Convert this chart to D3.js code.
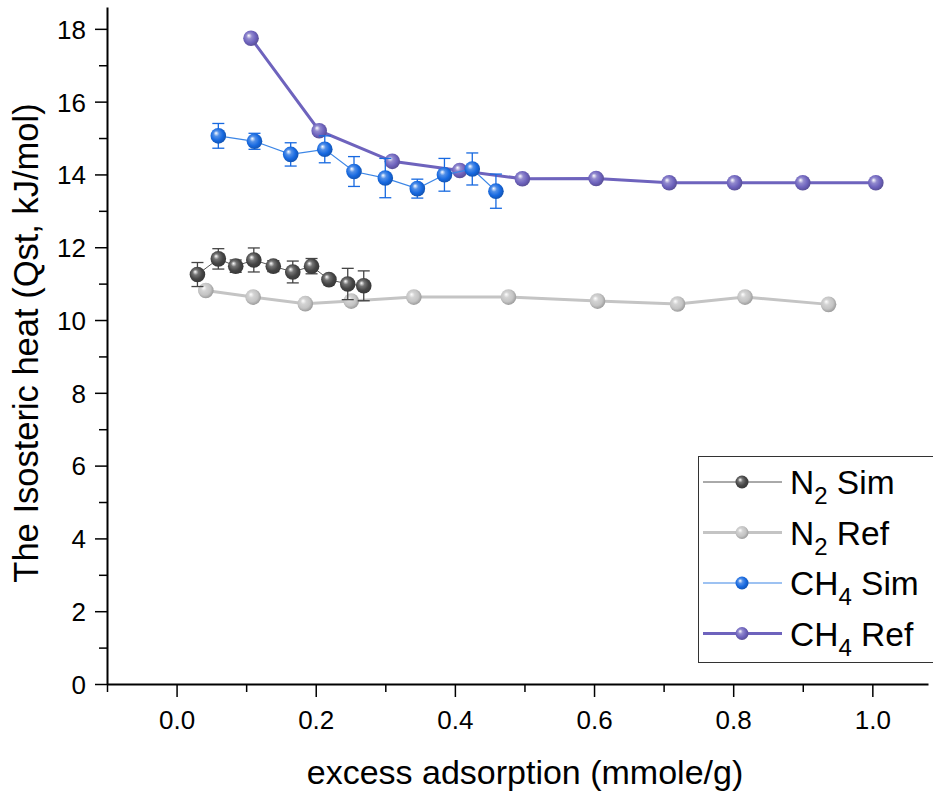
<!DOCTYPE html>
<html>
<head>
<meta charset="utf-8">
<title>Isosteric heat</title>
<script src="https://cdn.jsdelivr.net/npm/d3@7"></script>
<style>
  body { margin: 0; background: #fff; overflow: hidden; }
  svg text { font-family: Arial, 'Liberation Sans', sans-serif; fill: #000; }
</style>
</head>
<body>
<div id="container"></div>
<script>
// data
var n2SimX   = [0.030, 0.060, 0.085, 0.111, 0.139, 0.167, 0.194, 0.219, 0.246, 0.269];
var n2SimY   = [11.25, 11.68, 11.48, 11.65, 11.48, 11.32, 11.48, 11.11, 10.99, 10.94];
var n2SimErr = [0.33, 0.28, 0.17, 0.33, 0.15, 0.30, 0.21, 0.10, 0.43, 0.41];

var n2RefX = [0.042, 0.110, 0.185, 0.251, 0.341, 0.477, 0.605, 0.720, 0.817, 0.937];
var n2RefY = [10.81, 10.63, 10.45, 10.52, 10.63, 10.63, 10.52, 10.44, 10.63, 10.43];

var ch4SimX   = [0.060, 0.112, 0.164, 0.213, 0.255, 0.300, 0.346, 0.385, 0.425, 0.459];
var ch4SimY   = [15.06, 14.91, 14.55, 14.69, 14.08, 13.90, 13.61, 13.99, 14.15, 13.54];
var ch4SimErr = [0.34, 0.22, 0.32, 0.37, 0.41, 0.54, 0.26, 0.45, 0.44, 0.47];

var ch4RefX = [0.107, 0.205, 0.310, 0.407, 0.497, 0.603, 0.708, 0.802, 0.900, 1.005];
var ch4RefY = [17.74, 15.20, 14.36, 14.11, 13.88, 13.89, 13.77, 13.77, 13.77, 13.77];

var xTicks = [0.0, 0.2, 0.4, 0.6, 0.8, 1.0];
var yTicks = [0, 2, 4, 6, 8, 10, 12, 14, 16, 18];

var series = [
    { name: "N", sub: "2", tail: " Ref", xs: n2RefX, ys: n2RefY, err: null, color: "#c4c4c4", line: "#c4c4c4", lw: 3, id: "gN2R" },
    { name: "N", sub: "2", tail: " Sim", xs: n2SimX, ys: n2SimY, err: n2SimErr, color: "#454545", line: "#555", lw: 1, id: "gN2S" },
    { name: "CH", sub: "4", tail: " Ref", xs: ch4RefX, ys: ch4RefY, err: null, color: "#6e63bd", line: "#6e63bd", lw: 3, id: "gC4R" },
    { name: "CH", sub: "4", tail: " Sim", xs: ch4SimX, ys: ch4SimY, err: ch4SimErr, color: "#1769e0", line: "#3c86e6", lw: 1.2, id: "gC4S" }
];
var legendOrder = [1, 0, 3, 2];

var width = 933, height = 791;
var svg = d3.select("#container").append("svg").attr("width", width).attr("height", height);

var x = d3.scaleLinear().domain([-0.1, 1.08]).range([107, 928]);
var y = d3.scaleLinear().domain([0, 18.6]).range([684, 7]);

// sphere gradients
var defs = svg.append("defs");
series.forEach(function (s) {
    var g = defs.append("radialGradient").attr("id", s.id)
        .attr("cx", "45%").attr("cy", "45%").attr("r", "60%").attr("fx", "35%").attr("fy", "32%");
    g.append("stop").attr("offset", "0%").attr("stop-color", "#ffffff");
    g.append("stop").attr("offset", "30%").attr("stop-color", d3.interpolateRgb("#fff", s.color)(0.75));
    g.append("stop").attr("offset", "65%").attr("stop-color", s.color);
    g.append("stop").attr("offset", "100%").attr("stop-color", d3.color(s.color).darker(0.8));
});

// axes
var xAxis = d3.axisBottom(x).tickValues(xTicks).tickFormat(d3.format(".1f")).tickSize(13).tickSizeOuter(0);
var xMinor = d3.axisBottom(x).tickValues(d3.range(-0.1, 1.05, 0.2)).tickFormat("").tickSize(8).tickSizeOuter(0);
var yAxis = d3.axisLeft(y).tickValues(yTicks).tickFormat(d3.format("d")).tickSize(12).tickSizeOuter(0);
var yMinor = d3.axisLeft(y).tickValues(d3.range(1, 18, 2)).tickFormat("").tickSize(8).tickSizeOuter(0);

var gx = svg.append("g").attr("transform", "translate(0,684)").call(xAxis);
svg.append("g").attr("transform", "translate(0,684)").call(xMinor).select(".domain").remove();
var gy = svg.append("g").attr("transform", "translate(107,0)").call(yAxis);
svg.append("g").attr("transform", "translate(107,0)").call(yMinor).select(".domain").remove();

svg.selectAll(".domain").attr("stroke", "#000").attr("stroke-width", 2);
svg.selectAll(".tick line").attr("stroke", "#000").attr("stroke-width", 1.5);
gx.selectAll(".tick text").attr("font-size", 26).attr("dy", 0).attr("y", 45);
gy.selectAll(".tick text").attr("font-size", 26).attr("x", -21).attr("dy", "0.36em");
svg.selectAll(".tick text").attr("font-family", "Arial, 'Liberation Sans', sans-serif").attr("fill", "#000");

svg.append("text").attr("x", 525).attr("y", 784).attr("text-anchor", "middle")
    .attr("font-size", 34).text("excess adsorption (mmole/g)");
svg.append("text").attr("transform", "translate(38,343) rotate(-90)").attr("text-anchor", "middle")
    .attr("font-size", 34.5).text("The Isosteric heat (Qst, kJ/mol)");

// series
var line = d3.line().x(function (d) { return x(d[0]); }).y(function (d) { return y(d[1]); });
series.forEach(function (s) {
    var pts = s.xs.map(function (v, i) { return [v, s.ys[i], s.err ? s.err[i] : 0]; });
    var g = svg.append("g");
    g.append("path").datum(pts).attr("d", line).attr("fill", "none")
        .attr("stroke", s.line).attr("stroke-width", s.lw);
    if (s.err) {
        var eb = g.selectAll(".eb").data(pts).enter().append("g").attr("stroke", s.color).attr("stroke-width", 1.3);
        eb.append("line").attr("x1", function (d) { return x(d[0]); }).attr("x2", function (d) { return x(d[0]); })
            .attr("y1", function (d) { return y(d[1] - d[2]); }).attr("y2", function (d) { return y(d[1] + d[2]); });
        [-1, 1].forEach(function (sg) {
            eb.append("line").attr("x1", function (d) { return x(d[0]) - 6; }).attr("x2", function (d) { return x(d[0]) + 6; })
                .attr("y1", function (d) { return y(d[1] + sg * d[2]); }).attr("y2", function (d) { return y(d[1] + sg * d[2]); });
        });
    }
    g.selectAll("circle").data(pts).enter().append("circle")
        .attr("cx", function (d) { return x(d[0]); }).attr("cy", function (d) { return y(d[1]); })
        .attr("r", 7.8).attr("fill", "url(#" + s.id + ")");
});

// legend
var lg = svg.append("g");
lg.append("rect").attr("x", 698.5).attr("y", 456.5).attr("width", 240).attr("height", 206)
    .attr("fill", "#fff").attr("stroke", "#333").attr("stroke-width", 1);
legendOrder.forEach(function (k, i) {
    var s = series[k];
    var cy = 482 + i * 50.5;
    lg.append("line").attr("x1", 703).attr("x2", 782).attr("y1", cy).attr("y2", cy)
        .attr("stroke", s.line).attr("stroke-width", s.lw);
    lg.append("circle").attr("cx", 742).attr("cy", cy).attr("r", 6.5).attr("fill", "url(#" + s.id + ")");
    var t = lg.append("text").attr("x", 790).attr("y", cy + 12).attr("font-size", 33.5);
    t.append("tspan").text(s.name);
    t.append("tspan").attr("font-size", 24).attr("dy", 10).text(s.sub);
    t.append("tspan").attr("dy", -10).text(s.tail);
});
</script>
</body>
</html>
